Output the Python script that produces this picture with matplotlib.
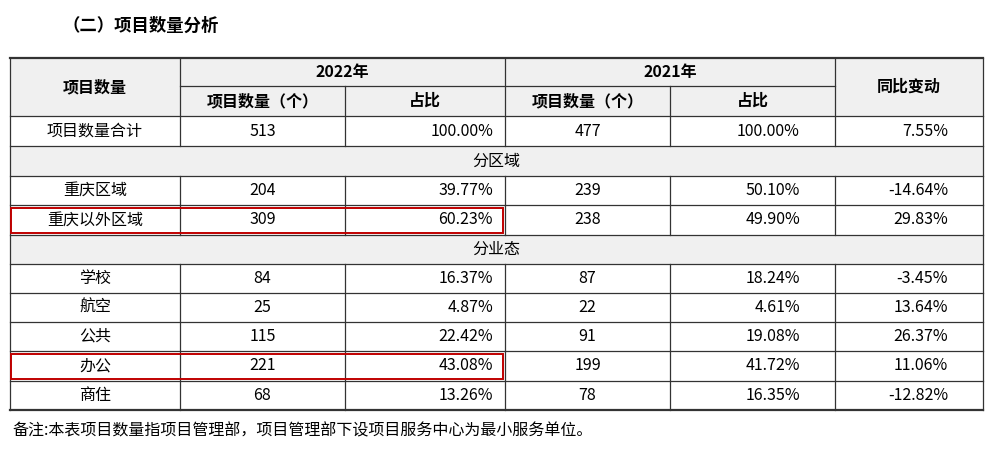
import matplotlib
matplotlib.use("Agg")
import matplotlib.pyplot as plt
from matplotlib.patches import Rectangle

title = "（二）项目数量分析"
year_labels = ["2022年", "2021年"]
sub_headers = ["项目数量（个）", "占比", "项目数量（个）", "占比"]
row_names = ["项目数量合计", "分区域", "重庆区域", "重庆以外区域", "分业态",
             "学校", "航空", "公共", "办公", "商住"]
count_2022 = [513, None, 204, 309, None, 84, 25, 115, 221, 68]
share_2022 = ["100.00%", None, "39.77%", "60.23%", None, "16.37%", "4.87%", "22.42%", "43.08%", "13.26%"]
count_2021 = [477, None, 239, 238, None, 87, 22, 91, 199, 78]
share_2021 = ["100.00%", None, "50.10%", "49.90%", None, "18.24%", "4.61%", "19.08%", "41.72%", "16.35%"]
yoy = ["7.55%", None, "-14.64%", "29.83%", None, "-3.45%", "13.64%", "26.37%", "11.06%", "-12.82%"]
highlight_rows = ["重庆以外区域", "办公"]
note = "备注:本表项目数量指项目管理部，项目管理部下设项目服务中心为最小服务单位。"

W, H = 993, 450
fig = plt.figure(figsize=(W/100, H/100), dpi=100)
ax = fig.add_axes([0, 0, 1, 1])
ax.set_xlim(0, W); ax.set_ylim(H, 0); ax.axis("off")
plt.rcParams["font.family"] = "Noto Sans CJK SC"
fs = 11.5

cols = [10, 180, 345, 505, 670, 835, 983]
rows = [58, 86, 116, 146, 176, 205, 235, 264, 293, 322, 351, 381, 410]
grey = "#f0f0f0"

ax.text(62, 26, title, fontsize=12.5, fontweight="bold", va="center", ha="left")
# header background
ax.add_patch(Rectangle((cols[0], rows[0]), cols[-1]-cols[0], rows[2]-rows[0], color=grey, lw=0))
for i, name in enumerate(row_names):
    y0, y1 = rows[i+2], rows[i+3]
    yc = (y0+y1)/2
    if count_2022[i] is None:
        ax.add_patch(Rectangle((cols[0], y0), cols[-1]-cols[0], y1-y0, color=grey, lw=0))
        ax.text((cols[0]+cols[-1])/2, yc, name, fontsize=fs, ha="center", va="center")
        continue
    ax.text((cols[0]+cols[1])/2, yc, name, fontsize=fs, ha="center", va="center")
    ax.text((cols[1]+cols[2])/2, yc, str(count_2022[i]), fontsize=fs, ha="center", va="center")
    ax.text(cols[3]-12, yc, share_2022[i], fontsize=fs, ha="right", va="center")
    ax.text((cols[3]+cols[4])/2, yc, str(count_2021[i]), fontsize=fs, ha="center", va="center")
    ax.text(cols[5]-35, yc, share_2021[i], fontsize=fs, ha="right", va="center")
    ax.text(cols[6]-35, yc, yoy[i], fontsize=fs, ha="right", va="center")
    if name in highlight_rows:
        ax.add_patch(Rectangle((cols[0]+1, y0+3), cols[3]-cols[0]-3, y1-y0-5,
                               fill=False, ec="#c00000", lw=1.4, zorder=5))

# header texts
hc = (rows[0]+rows[2])/2
ax.text((cols[0]+cols[1])/2, hc, "项目数量", fontsize=fs, fontweight="bold", ha="center", va="center")
ax.text((cols[5]+cols[6])/2, hc, "同比变动", fontsize=fs, fontweight="bold", ha="center", va="center")
ax.text((cols[1]+cols[3])/2, (rows[0]+rows[1])/2, year_labels[0], fontsize=fs, fontweight="bold", ha="center", va="center")
ax.text((cols[3]+cols[5])/2, (rows[0]+rows[1])/2, year_labels[1], fontsize=fs, fontweight="bold", ha="center", va="center")
for j, s in enumerate(sub_headers):
    ax.text((cols[j+1]+cols[j+2])/2, (rows[1]+rows[2])/2, s, fontsize=fs, fontweight="bold", ha="center", va="center")

lc, lw = "#333333", 0.9
# horizontal lines
ax.plot([cols[0], cols[-1]], [rows[0]]*2, color=lc, lw=1.6)
ax.plot([cols[1], cols[5]], [rows[1]]*2, color=lc, lw=lw)
for r in rows[2:-1]:
    ax.plot([cols[0], cols[-1]], [r]*2, color=lc, lw=lw)
ax.plot([cols[0], cols[-1]], [rows[-1]]*2, color=lc, lw=1.6)
# vertical lines
ax.plot([cols[0]]*2, [rows[0], rows[-1]], color=lc, lw=lw)
ax.plot([cols[-1]]*2, [rows[0], rows[-1]], color=lc, lw=lw)
gray_rows = [i for i, c in enumerate(count_2022) if c is None]
for k, x in enumerate(cols[1:-1], start=1):
    segs = []
    start = rows[1] if k in (2, 4) else rows[0]
    cur = start
    for gi in gray_rows:
        segs.append((cur, rows[gi+2])); cur = rows[gi+3]
    segs.append((cur, rows[-1]))
    for a, b in segs:
        ax.plot([x, x], [a, b], color=lc, lw=lw)

ax.text(12, 431, note, fontsize=fs, ha="left", va="center")
fig.savefig("out.png", dpi=100)
